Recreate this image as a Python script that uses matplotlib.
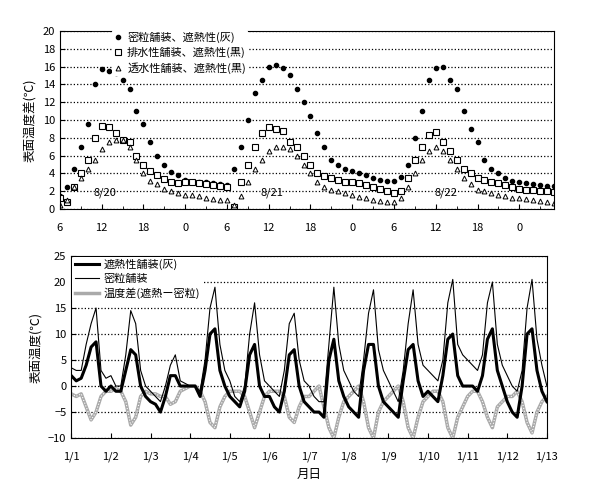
import matplotlib
matplotlib.use("Agg")
import matplotlib.pyplot as plt
import numpy as np

plt.rcParams['font.family'] = ['Noto Sans CJK JP', 'DejaVu Sans']

# ---- top chart data (hourly from 6:00 8/20) ----
dense_top = [1.5,2.5,4.5,7,9.5,14,15.7,15.5,15.3,14.5,13.5,11,9.5,7.5,6,5,4.2,3.8,3.3,3,3,3,2.9,2.8,
             2.7,4.5,7,10,13,14.5,16,16.2,15.8,15,13.5,12,10.5,8.5,7,5.5,5,4.5,4.3,4,3.8,3.5,3.3,3.2,
             3.2,3.6,5,8,11,14.5,15.8,16,14.5,13.5,11,9,7.5,5.5,4.5,4,3.5,3.2,3,2.9,2.8,2.7,2.6,2.6]
drain_top = [1.2,0.8,2.5,4,5.5,8,9.3,9.2,8.5,7.8,7.5,6,5,4.3,3.8,3.4,3.1,2.9,3,3,2.9,2.8,2.7,2.6,
             2.5,0.2,3,5,7,8.5,9.2,9,8.8,7.5,7,6,5,4,3.7,3.5,3.3,3.1,3,2.9,2.7,2.5,2.3,2,
             1.8,2,3.5,5.5,7,8.3,8.7,7.5,6.5,5.5,4.5,4,3.5,3.3,3.1,2.9,2.7,2.5,2.3,2.2,2.1,2,2,1.9]
perm_top = [0.5,1,2.5,3.5,4.5,5.5,6.8,7.5,7.8,7.8,7,5.5,4,3.2,2.8,2.3,2,1.8,1.6,1.6,1.5,1.3,1.1,1,
            1,0.5,1.5,3,4.5,5.5,6.5,7,7,6.8,6,5,4,3,2.5,2.2,2,1.8,1.6,1.4,1.2,1,0.9,0.8,
            0.8,1.2,2.5,4,5.5,6.5,7,6.5,5.5,4.5,3.5,2.8,2.2,2,1.8,1.6,1.5,1.3,1.2,1.1,1,0.9,0.8,0.7]
top_xticklabels = ['6','12','18','0','6','12','18','0','6','12','18','0']
top_labels = ['密粒舗装、遮熱性(灰)', '排水性舗装、遮熱性(黒)', '透水性舗装、遮熱性(黒)']
day_labels = ['8/20', '8/21', '8/22']

# ---- bottom chart data (3-hourly from 1/1 0:00) ----
shield = [2,1,1.5,4,7.5,8.5,0,-1, 0,-1,-1,3,7,6,0,-2, -3,-3.5,-5,-2,2,2,0,0,
          0,0,-2,3,10,11,3,0, -2,-3,-4,-1,6,8,0,-2, -2,-4,-5,-1,6,7,0,-3,
          -4,-5,-5,-6,5,9,1,-2, -4,-5,-6,3,8,8,0,-3, -4,-5,-6,1,7,8,1,-2,
          -1,-2,-3,2,9,10,2,0, 0,0,-1,2,9,11,3,0, -3,-5,-6,0,10,11,3,-1, -3]
dense = [3.5,3,3,8,12,15,3,1.5, 2,0,0,6,14.5,12,3,0, -1,-2,-3,0,4,6,1,0.5,
         0,0,-1,5,15,19,8,3, 1,-2,-3,0,10,16,6,1, 0,-1,-2,3,12,14,5,1,
         0,-2,-3,-3,8,19,8,3, 1,-1,-2,5,14,18.5,7,3, 1,-1,-3,3,12,18.5,8,4,
         3,2,1,5,16,20.5,8,6, 5,4,3,6,16,20,8,4, 2,0,-1,3,15,20.5,9,4, 0]
diff = [-1.5,-2,-1.5,-4,-6.5,-5,-2,-1, -1,-0.5,-1,-3,-7.5,-6,-2,-1, -1.5,-1.5,-2,-2,-3.5,-3,-1,-0.5,
        0,0,-1,-3,-7,-8,-4,-2, -1,-1,-1,-2,-5,-8,-5,-2, -1,-1,-1,-2,-6,-7,-4,-2,
        -2,-1,0,-4,-8,-10,-6,-3, -2,-1,0,-3,-8,-10,-5,-3, -2,-1,0,-3,-8,-10,-6,-3,
        -2,-1,-1,-3,-8,-10,-6,-4, -2,-1,-1,-3,-6,-8,-4,-3, -2,-2,-1,-3,-7,-9,-5,-3, -2]
bottom_xticklabels = ['1/%d' % i for i in range(1, 14)]
bottom_labels = ['遮熱性舗装(灰)', '密粒舗装', '温度差(遮熱ー密粒)']

fig = plt.figure(figsize=(5.99, 4.83), dpi=100)

# ---- top ----
ax1 = fig.add_axes([0.100, 0.567, 0.825, 0.369])
t = np.arange(len(dense_top))
ax1.plot(t, dense_top, 'o', color='black', ms=3, label=top_labels[0])
ax1.plot(t, drain_top, 's', mfc='white', mec='black', ms=4, mew=0.8, label=top_labels[1])
ax1.plot(t, perm_top, '^', mfc='white', mec='black', ms=3.5, mew=0.7, label=top_labels[2])
ax1.set_xlim(0, 71)
ax1.set_ylim(0, 20)
ax1.set_yticks(range(0, 21, 2))
ax1.set_xticks(range(0, 67, 6))
ax1.set_xticklabels(top_xticklabels)
ax1.set_xticks(range(0, 72, 3), minor=True)
ax1.yaxis.grid(True, linestyle=':', color='black', lw=0.9)
ax1.set_ylabel('表面温度差(℃)', fontsize=9)
ax1.tick_params(labelsize=8, direction='in')
ax1.tick_params(axis='x', which='both', direction='in', pad=10)
for x, lab in zip([6.5, 30.5, 55.5], day_labels):
    ax1.text(x, 1.2, lab, ha='center', va='bottom', fontsize=8)
leg1 = ax1.legend(loc='upper left', bbox_to_anchor=(0.1, 1.02), frameon=True, fontsize=8,
                  handlelength=0.8, handletextpad=0.4, labelspacing=0.35, borderaxespad=0.2,
                  borderpad=0.2)
leg1.get_frame().set_facecolor('white')
leg1.get_frame().set_edgecolor('none')
leg1.get_frame().set_alpha(1)

# ---- bottom ----
ax2 = fig.add_axes([0.119, 0.093, 0.794, 0.377])
tb = np.arange(len(shield)) / 8.0
ax2.plot(tb, diff, color='#aaaaaa', lw=2.5, label=bottom_labels[2], zorder=2)
ax2.plot(tb, diff, color='white', lw=0.8, ls=':', zorder=2.1)
ax2.plot(tb, shield, color='black', lw=2.2, label=bottom_labels[0], zorder=3)
ax2.plot(tb, dense, color='black', lw=0.8, label=bottom_labels[1], zorder=3)
ax2.set_xlim(0, 12)
ax2.set_ylim(-10, 25)
ax2.set_yticks(range(-10, 26, 5))
ax2.set_xticks(range(0, 13))
ax2.set_xticklabels(bottom_xticklabels)
ax2.yaxis.grid(True, linestyle=':', color='black', lw=0.9)
ax2.set_ylabel('表面温度(℃)', fontsize=9)
ax2.set_xlabel('月日', fontsize=9)
ax2.tick_params(labelsize=8, direction='in')
ax2.tick_params(axis='x', pad=10)
h, l = ax2.get_legend_handles_labels()
order = [1, 2, 0]
leg2 = ax2.legend([h[i] for i in order], [l[i] for i in order], loc='upper left', frameon=True,
                  fontsize=8, handlelength=2.2, handletextpad=0.4, labelspacing=0.3,
                  borderaxespad=0.1, borderpad=0.2)
leg2.get_frame().set_facecolor('white')
leg2.get_frame().set_edgecolor('none')
leg2.get_frame().set_alpha(1)
leg2.set_zorder(5)

fig.savefig('out.png', dpi=100)
